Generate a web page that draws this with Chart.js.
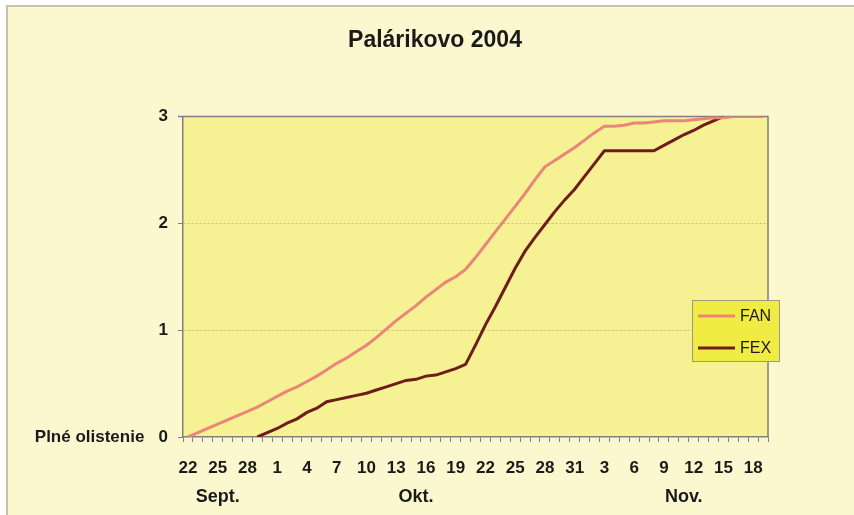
<!DOCTYPE html>
<html>
<head>
<meta charset="utf-8">
<script src="https://cdn.jsdelivr.net/npm/chart.js@4"></script>
<style>
  html, body { margin: 0; padding: 0; background: #ffffff; }
  #wrap { width: 854px; height: 515px; }
</style>
</head>
<body>
<div id="wrap"><canvas id="chart" width="854" height="515"></canvas></div>
<script>
const title = "Palárikovo 2004";
const yZeroLabel = "Plné olistenie";

// one category per day, 22 Sept - 19 Nov
const days = [
  22, 23, 24, 25, 26, 27, 28, 29, 30,
  1, 2, 3, 4, 5, 6, 7, 8, 9, 10, 11, 12, 13, 14, 15, 16, 17, 18, 19, 20,
  21, 22, 23, 24, 25, 26, 27, 28, 29, 30, 31,
  1, 2, 3, 4, 5, 6, 7, 8, 9, 10, 11, 12, 13, 14, 15, 16, 17, 18, 19
];
const months = ["Sept.", "Okt.", "Nov."];
const monthLabelIndex = [3, 23, 50];

const fan = [
  0.00, 0.04, 0.08, 0.12, 0.16, 0.20, 0.24, 0.28, 0.33, 0.38,
  0.43, 0.47, 0.52, 0.57, 0.63, 0.69, 0.74, 0.80, 0.86, 0.93,
  1.01, 1.09, 1.16, 1.23, 1.31, 1.38, 1.45, 1.50, 1.57, 1.68,
  1.80, 1.92, 2.04, 2.16, 2.28, 2.41, 2.53, 2.59, 2.65, 2.71,
  2.78, 2.85, 2.91, 2.91, 2.92, 2.94, 2.94, 2.95, 2.96, 2.96,
  2.96, 2.97, 2.98, 2.99, 2.99, 3.00, 3.00, 3.00, 3.00
];
const fex = [
  null, null, null, null, null, null, null, 0.00, 0.04, 0.08,
  0.13, 0.17, 0.23, 0.27, 0.33, 0.35, 0.37, 0.39, 0.41, 0.44,
  0.47, 0.50, 0.53, 0.54, 0.57, 0.58, 0.61, 0.64, 0.68, 0.86,
  1.05, 1.22, 1.40, 1.58, 1.74, 1.87, 1.99, 2.11, 2.22, 2.32,
  2.44, 2.56, 2.68, 2.68, 2.68, 2.68, 2.68, 2.68, 2.73, 2.78,
  2.83, 2.87, 2.92, 2.96, 3.00, null, null, null, null
];

const cream = "#fbf7cf";
const plotYellow = "#f6f193";
const frameGray = "#808080";
const textColor = "#1a1a1a";

const background = {
  id: "background",
  beforeDraw(chart) {
    const { ctx, chartArea: a } = chart;
    ctx.save();
    ctx.fillStyle = "#ffffff";
    ctx.fillRect(0, 0, chart.width, chart.height);
    ctx.fillStyle = cream;
    ctx.fillRect(7, 6, chart.width - 7, chart.height - 6);
    ctx.strokeStyle = "#c6c2b2";
    ctx.lineWidth = 2;
    ctx.beginPath();
    ctx.moveTo(7, chart.height);
    ctx.lineTo(7, 6);
    ctx.lineTo(chart.width, 6);
    ctx.stroke();
    ctx.fillStyle = plotYellow;
    ctx.fillRect(a.left, a.top, a.right - a.left, a.bottom - a.top);
    ctx.restore();
  },
  beforeDatasetsDraw(chart) {
    const { ctx, chartArea: a } = chart;
    ctx.save();
    ctx.strokeStyle = frameGray;
    ctx.lineWidth = 1.5;
    ctx.beginPath();
    ctx.moveTo(a.left - 5, a.top);
    ctx.lineTo(a.right, a.top);
    ctx.lineTo(a.right, a.bottom);
    ctx.stroke();
    ctx.restore();
  }
};

// legend box sitting over the right edge of the plot
const boxLegend = {
  id: "boxLegend",
  afterDraw(chart) {
    const { ctx } = chart;
    const x = 692, y = 300, w = 88, h = 62;
    ctx.save();
    ctx.fillStyle = "#f0ec44";
    ctx.fillRect(x, y, w, h);
    ctx.strokeStyle = "#9a9a80";
    ctx.lineWidth = 1;
    ctx.strokeRect(x + 0.5, y + 0.5, w - 1, h - 1);
    ctx.font = "16px 'Liberation Sans', Arial, sans-serif";
    ctx.textBaseline = "middle";
    chart.data.datasets.forEach((ds, i) => {
      const ly = y + 16 + i * 32;
      ctx.strokeStyle = ds.borderColor;
      ctx.lineWidth = 3;
      ctx.beginPath();
      ctx.moveTo(x + 6, ly);
      ctx.lineTo(x + 43, ly);
      ctx.stroke();
      ctx.fillStyle = textColor;
      ctx.fillText(ds.label, x + 48, ly + 1);
    });
    ctx.restore();
  }
};

const labelFont = { family: "'Liberation Sans', Arial, sans-serif", weight: "bold" };

new Chart(document.getElementById("chart"), {
  type: "line",
  data: {
    labels: days,
    datasets: [
      {
        label: "FAN",
        data: fan,
        borderColor: "#ea8679",
        borderWidth: 3,
        pointRadius: 0,
        tension: 0,
      },
      {
        label: "FEX",
        data: fex,
        borderColor: "#6e1c1c",
        borderWidth: 3,
        pointRadius: 0,
        tension: 0,
      },
    ],
  },
  options: {
    responsive: false,
    animation: false,
    layout: { padding: { left: 16, right: 0, top: 0, bottom: 0 } },
    plugins: {
      legend: { display: false },
      tooltip: { enabled: false },
      title: {
        display: true,
        text: title,
        color: textColor,
        font: { ...labelFont, size: 23 },
        padding: { top: 27, bottom: 62 },
      },
    },
    scales: {
      x: {
        offset: true,
        grid: {
          offset: true,
          drawOnChartArea: false,
          tickLength: 5,
          tickColor: frameGray,
        },
        border: { color: frameGray, width: 1.5 },
        ticks: {
          autoSkip: false,
          maxRotation: 0,
          padding: 16,
          color: textColor,
          font: { ...labelFont, size: 17 },
          callback: (v, i) => (i % 3 === 0 ? String(days[i]) : ""),
        },
        afterFit: (s) => { s.height = 46; },
      },
      x2: {
        type: "category",
        position: "bottom",
        offset: true,
        grid: { display: false, drawTicks: false },
        border: { display: false },
        ticks: {
          autoSkip: false,
          maxRotation: 0,
          padding: 3,
          color: textColor,
          font: { ...labelFont, size: 18 },
          callback: (v, i) => {
            const k = monthLabelIndex.indexOf(i);
            return k >= 0 ? months[k] : "";
          },
        },
        afterFit: (s) => { s.height = 32; },
      },
      y: {
        min: 0,
        max: 3,
        ticks: {
          stepSize: 1,
          padding: 10,
          color: textColor,
          font: { ...labelFont, size: 17 },
          callback: (v) => (v === 0 ? yZeroLabel + "   0" : String(v)),
        },
        grid: {
          tickLength: 5,
          tickColor: frameGray,
          color: (c) => (c.tick && (c.tick.value === 1 || c.tick.value === 2) ? "#c2bd86" : "rgba(0,0,0,0)"),
        },
        border: { color: frameGray, width: 1.5, dash: [2, 2] },
        afterFit: (s) => { s.width = 167; },
      },
      // empty right-hand margin so the title centres on the whole picture
      yRight: {
        position: "right",
        min: 0,
        max: 3,
        grid: { display: false, drawTicks: false },
        border: { display: false },
        ticks: { display: false },
        afterFit: (s) => { s.width = 86; },
      },
    },
  },
  plugins: [background, boxLegend],
});
</script>
</body>
</html>
